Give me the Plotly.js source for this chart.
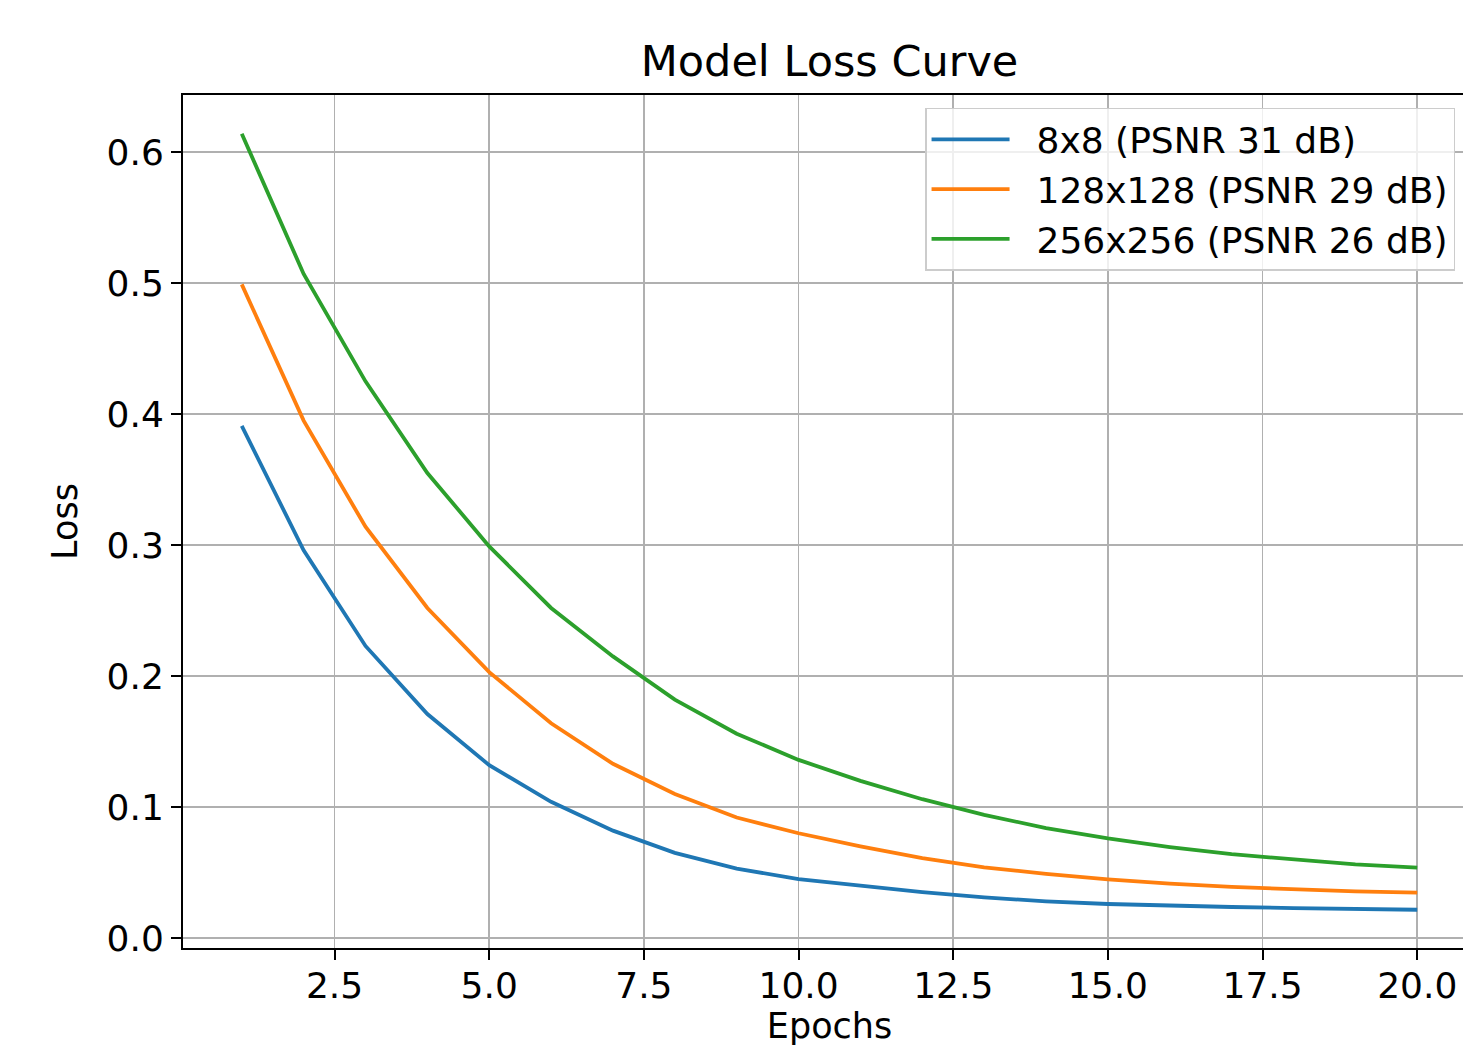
<!DOCTYPE html>
<html>
<head>
<meta charset="utf-8">
<script src="https://cdn.plot.ly/plotly-3.0.1.min.js"></script>
<style>
  html, body { margin: 0; padding: 0; overflow: hidden; background: #fff; }
  #chart { width: 1476px; height: 1052px; }
</style>
</head>
<body>
<div id="chart"></div>
<script>
const epochs = [1, 2, 3, 4, 5, 6, 7, 8, 9, 10, 11, 12, 13, 14, 15, 16, 17, 18, 19, 20];
const seriesNames = ["8x8 (PSNR 31 dB)", "128x128 (PSNR 29 dB)", "256x256 (PSNR 26 dB)"];
const loss8x8 = [0.391, 0.296, 0.223, 0.171, 0.132, 0.104, 0.082, 0.065, 0.053, 0.045,
                 0.040, 0.035, 0.031, 0.028, 0.026, 0.0247, 0.0237, 0.0229, 0.0221, 0.0216];
const loss128 = [0.499, 0.395, 0.314, 0.252, 0.203, 0.164, 0.133, 0.110, 0.092, 0.080,
                 0.070, 0.061, 0.054, 0.049, 0.0448, 0.0415, 0.039, 0.0372, 0.0356, 0.0346];
const loss256 = [0.614, 0.507, 0.425, 0.355, 0.299, 0.252, 0.215, 0.182, 0.156, 0.136,
                 0.120, 0.106, 0.094, 0.084, 0.076, 0.0695, 0.064, 0.060, 0.0562, 0.0537];
const xTicks = [2.5, 5.0, 7.5, 10.0, 12.5, 15.0, 17.5, 20.0];
const yTicks = [0.0, 0.1, 0.2, 0.3, 0.4, 0.5, 0.6];

const colors = ["#1f77b4", "#ff7f0e", "#2ca02c"];
const allSeries = [loss8x8, loss128, loss256];

const traces = allSeries.map((ys, i) => ({
  x: epochs,
  y: ys,
  type: "scatter",
  mode: "lines",
  name: seriesNames[i],
  line: { color: colors[i], width: 3.8 }
}));

const font = "DejaVu Sans, sans-serif";
const axisCommon = {
  showline: true,
  linecolor: "#000",
  linewidth: 2,
  mirror: true,
  ticks: "outside",
  ticklen: 10,
  tickwidth: 2,
  tickcolor: "#000",
  showgrid: true,
  gridcolor: "#b0b0b0",
  gridwidth: 1.6,
  zeroline: false,
  tickfont: { family: font, size: 36, color: "#000" },
  tickformat: ".1f",
  tickmode: "array"
};

const layout = {
  width: 1476,
  height: 1052,
  margin: { l: 183, r: 0, t: 95, b: 104 },
  paper_bgcolor: "#fff",
  plot_bgcolor: "#fff",
  title: {
    text: "Model Loss Curve",
    font: { family: font, size: 43, color: "#000" },
    xref: "paper", x: 0.5, xanchor: "center",
    yref: "container", y: 1 - 61 / 1052, yanchor: "middle"
  },
  xaxis: Object.assign({}, axisCommon, {
    range: [0.05, 20.95],
    tickvals: xTicks,
    ticklabelstandoff: -5,
    title: { text: "Epochs", font: { family: font, size: 35, color: "#000" }, standoff: 8 }
  }),
  yaxis: Object.assign({}, axisCommon, {
    range: [-0.0076, 0.6436],
    tickvals: yTicks,
    title: { text: "Loss", font: { family: font, size: 35, color: "#000" }, standoff: 18 }
  }),
  showlegend: true,
  legend: {
    x: 0.9838, xanchor: "right",
    y: 0.9848, yanchor: "top",
    bgcolor: "rgba(255,255,255,0.8)",
    bordercolor: "#cccccc",
    borderwidth: 1.5,
    font: { family: font, size: 36, color: "#000" },
    itemwidth: 100
  }
};

Plotly.newPlot("chart", traces, layout, { displayModeBar: false, staticPlot: true }).then(() => {
  document.querySelectorAll(".legend .legendlines path").forEach(p => p.setAttribute("d", "M5,0h78"));
});
</script>
</body>
</html>
